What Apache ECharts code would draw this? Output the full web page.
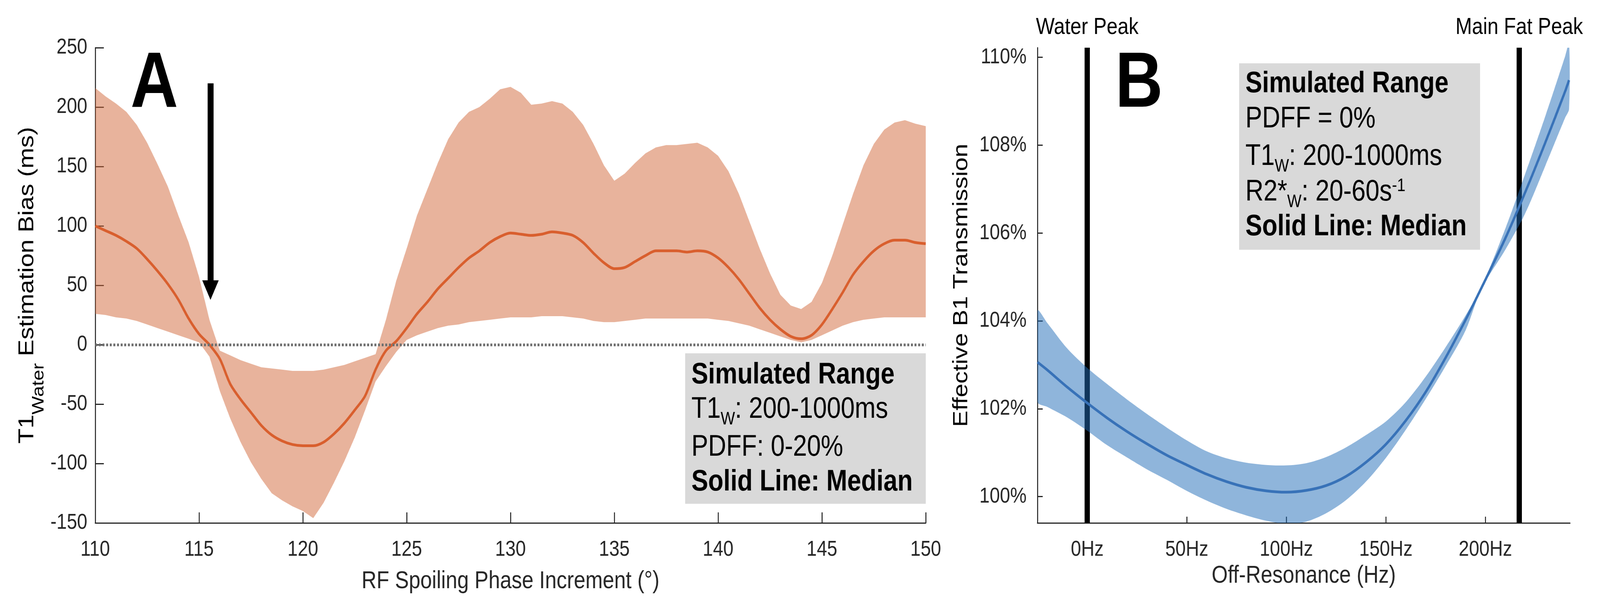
<!DOCTYPE html>
<html>
<head>
<meta charset="utf-8">
<script src="https://cdn.jsdelivr.net/npm/echarts@6/dist/echarts.min.js"></script>
<style>
  html, body { margin: 0; padding: 0; background: #fff; overflow: hidden; }
  #chart { width: 4855px; height: 1548px; transform-origin: 0 0; }
</style>
</head>
<body>
<div id="chart"></div>
<script>
    // panel A: T1 water bias vs RF spoiling phase increment
    var phaseDeg = [
        110, 110.5, 111, 111.5, 112, 112.5, 113, 113.5, 114, 114.5,
        115, 115.5, 116, 116.5, 117, 117.5, 118, 118.5, 119, 119.5,
        120, 120.5, 121, 121.5, 122, 122.5, 123, 123.5, 124, 124.5,
        125, 125.5, 126, 126.5, 127, 127.5, 128, 128.5, 129, 129.5,
        130, 130.5, 131, 131.5, 132, 132.5, 133, 133.5, 134, 134.5,
        135, 135.5, 136, 136.5, 137, 137.5, 138, 138.5, 139, 139.5,
        140, 140.5, 141, 141.5, 142, 142.5, 143, 143.5, 144, 144.5,
        145, 145.5, 146, 146.5, 147, 147.5, 148, 148.5, 149, 149.5,
        150
    ];
    var biasUpper = [
        216, 209, 203, 196, 185, 170, 152, 133, 109, 86,
        57, 21, -5, -9, -13, -16, -19, -20, -21, -22,
        -22, -22, -21, -19, -17, -14, -11, -8, 21, 54,
        81, 109, 131, 153, 173, 187, 196, 200, 207, 215,
        217, 212, 202, 203, 205, 203, 196, 185, 169, 151,
        138, 144, 153, 161, 166, 168, 168, 169, 170, 166,
        159, 146, 127, 104, 81, 60, 42, 33, 30, 36,
        52, 75, 101, 127, 151, 169, 181, 187, 189, 186,
        184
    ];
    var biasLower = [
        26, 25, 23, 22, 20, 17, 14, 11, 8, 5,
        2, -10, -39, -62, -82, -99, -113, -125, -131, -136,
        -140, -146, -133, -116, -98, -78, -55, -31, -18, -6,
        4, 8, 11, 14, 16, 17, 19, 20, 21, 22,
        23, 23, 23, 24, 24, 24, 23, 22, 20, 19,
        19, 20, 21, 22, 22, 22, 22, 22, 22, 22,
        21, 20, 18, 16, 13, 10, 7, 4, 2, 4,
        8, 12, 16, 19, 21, 22, 23, 23, 23, 23,
        23
    ];
    var biasMedian = [
        100, 96, 92, 87, 81, 72, 62, 51, 38, 22,
        9, 0, -12, -33, -46, -57, -68, -76, -81, -84,
        -85, -85, -82, -75, -66, -55, -43, -21, -5, 3,
        14, 26, 36, 47, 56, 65, 73, 79, 86, 91,
        94, 93, 92, 93, 95, 94, 92, 86, 77, 69,
        64, 65, 70, 75, 79, 79, 79, 78, 79, 78,
        73, 65, 55, 43, 31, 21, 13, 7, 5, 8,
        17, 30, 44, 59, 70, 79, 85, 88, 88, 86,
        85
    ];

    // panel B: effective B1 transmission vs off-resonance
    var offResHz = [-25, -20, -10, 0, 10, 20, 30, 40, 50, 60, 70, 80, 90, 100, 110,
        120, 130, 140, 150, 160, 170, 180, 190, 198, 210, 220, 230, 240, 242];
    var b1Upper = [104.23, 103.95, 103.37, 102.93, 102.56, 102.21, 101.88, 101.57, 101.28, 101.03,
        100.87, 100.77, 100.72, 100.71, 100.76, 100.90, 101.12, 101.40, 101.71, 102.15,
        102.73, 103.40, 104.12, 104.77, 106.10, 107.35, 108.65, 110.02, 110.32];
    var b1Lower = [102.16, 102.04, 101.80, 101.50, 101.17, 100.89, 100.62, 100.38, 100.13, 99.91,
        99.72, 99.57, 99.45, 99.38, 99.43, 99.62, 99.92, 100.34, 100.88, 101.52,
        102.22, 102.97, 103.78, 104.73, 105.62, 106.45, 107.52, 108.62, 108.82];
    var b1Median = [103.06, 102.88, 102.49, 102.13, 101.79, 101.48, 101.20, 100.94, 100.72, 100.51,
        100.34, 100.21, 100.13, 100.10, 100.14, 100.25, 100.46, 100.78, 101.19, 101.73,
        102.38, 103.16, 104.02, 104.75, 105.88, 106.93, 108.05, 109.22, 109.48];

    var hzTicks = [0, 50, 100, 150, 200];
    var b1Ticks = [100, 102, 104, 106, 108, 110];
    var peakHz = [0, 217];
    var peakNames = ['Water Peak', 'Main Fat Peak'];

    var font = 'Liberation Sans, Arial, Helvetica, sans-serif';
    var ink = '#262626';

    function pairs(xs, ys) {
        return xs.map(function (x, i) { return [x, ys[i]]; });
    }

    // filled range between two curves, drawn as one polygon in data space
    function bandRenderer(xs, lo, hi, fill, smooth) {
        return function (params, api) {
            var points = [];
            for (var i = 0; i < xs.length; i++) {
                points.push(api.coord([xs[i], hi[i]]));
            }
            for (var j = xs.length - 1; j >= 0; j--) {
                points.push(api.coord([xs[j], lo[j]]));
            }
            return {
                type: 'polygon',
                shape: { points: points, smooth: smooth },
                style: { fill: fill }
            };
        };
    }

    function axisX(grid, extra) {
        var ax = {
            gridIndex: grid,
            type: 'value',
            nameLocation: 'middle',
            nameTextStyle: { fontSize: 63, color: ink, fontFamily: font },
            axisLine: { onZero: false, lineStyle: { color: ink, width: 3 } },
            axisTick: { inside: true, length: 27, lineStyle: { color: ink, width: 3 } },
            axisLabel: { fontSize: 56, color: ink, margin: 41, fontFamily: font },
            splitLine: { show: false }
        };
        return Object.assign(ax, extra);
    }

    var legendMain = { fontSize: 76, lineHeight: 76, verticalAlign: 'top', fontFamily: font, color: '#000' };
    var legendRich = {
        b: Object.assign({}, legendMain, { fontWeight: 'bold' }),
        n: legendMain,
        s: { fontSize: 46, lineHeight: 46, verticalAlign: 'top', padding: [41, 0, 0, 0], fontFamily: font, color: '#000' },
        p: { fontSize: 46, lineHeight: 46, verticalAlign: 'top', fontFamily: font, color: '#000' }
    };
    function legendLine(x, baseline, text) {
        return {
            type: 'text', x: x, y: baseline - 64.3, z: 20,
            style: { text: text, rich: legendRich, verticalAlign: 'top', align: 'left' }
        };
    }

    var option = {
        backgroundColor: '#fff',
        animation: false,
        textStyle: { fontFamily: font },
        grid: [
            { left: 289, top: 122, width: 2520, height: 1216 },
            { left: 3148, top: 122, width: 1616, height: 1216 }
        ],
        xAxis: [
            axisX(0, {
                min: 110, max: 150, interval: 5,
                name: 'RF Spoiling Phase Increment (°)', nameGap: 118
            }),
            axisX(1, {
                min: -25, max: 242.5,
                name: 'Off-Resonance (Hz)', nameGap: 104,
                axisTick: { inside: true, length: 16, customValues: hzTicks, lineStyle: { color: ink, width: 3 } },
                axisLabel: {
                    fontSize: 56, color: ink, margin: 41, fontFamily: font, customValues: hzTicks,
                    formatter: function (v) { return v + 'Hz'; }
                }
            })
        ],
        yAxis: [
            {
                gridIndex: 0, type: 'value', min: -150, max: 250, interval: 50,
                axisLine: { show: true, onZero: false, lineStyle: { color: ink, width: 3 } },
                axisTick: { show: true, inside: true, length: 26, lineStyle: { color: ink, width: 3 } },
                axisLabel: { fontSize: 56, color: ink, margin: 24, fontFamily: font },
                splitLine: { show: false }
            },
            {
                gridIndex: 1, type: 'value', min: 99.4, max: 110.22,
                axisLine: { show: true, onZero: false, lineStyle: { color: ink, width: 3 } },
                axisTick: { show: true, inside: true, length: 16, customValues: b1Ticks, lineStyle: { color: ink, width: 3 } },
                axisLabel: {
                    fontSize: 56, color: ink, margin: 33, fontFamily: font, customValues: b1Ticks,
                    formatter: function (v) { return v + '%'; }
                },
                splitLine: { show: false }
            }
        ],
        series: [
            {
                name: 'bias range', type: 'custom', xAxisIndex: 0, yAxisIndex: 0,
                renderItem: bandRenderer(phaseDeg, biasLower, biasUpper, 'rgba(209,103,57,0.5)', 0),
                data: [0], clip: true, silent: true,
                markLine: {
                    silent: true, z: 6, symbol: ['none', 'triangle'], symbolSize: [50, 50],
                    label: { show: false },
                    lineStyle: { color: '#000', width: 18, type: 'solid', opacity: 1 },
                    data: [[{ coord: [115.55, 220] }, { coord: [115.55, 46] }]]
                }
            },
            {
                name: 'bias median', type: 'line', xAxisIndex: 0, yAxisIndex: 0,
                data: pairs(phaseDeg, biasMedian), symbol: 'none', smooth: 0.3, silent: true,
                lineStyle: { color: '#D95F2E', width: 7 },
                markLine: {
                    silent: true, symbol: 'none', label: { show: false },
                    lineStyle: { color: '#707070', width: 7, type: [6, 5] },
                    data: [{ yAxis: 0 }]
                }
            },
            {
                name: 'b1 range', type: 'custom', xAxisIndex: 1, yAxisIndex: 1,
                renderItem: bandRenderer(offResHz, b1Lower, b1Upper, 'rgba(31,107,183,0.5)', 0.3),
                data: [0], clip: true, silent: true,
                markLine: {
                    silent: true, z: 1, symbol: 'none',
                    lineStyle: { color: '#000', width: 16, type: 'solid', opacity: 1 },
                    label: {
                        show: true, position: 'end', formatter: '{b}', distance: 22,
                        fontSize: 60, color: '#000', fontFamily: font
                    },
                    data: peakHz.map(function (hz, i) { return { xAxis: hz, name: peakNames[i] }; })
                }
            },
            {
                name: 'b1 median', type: 'line', xAxisIndex: 1, yAxisIndex: 1,
                data: pairs(offResHz, b1Median), symbol: 'none', smooth: 0.3, silent: true,
                lineStyle: { color: '#3872B8', width: 7 }
            }
        ],
        graphic: [
            {
                type: 'text', x: 396, y: 218, z: 20,
                style: { text: 'A', fontSize: 200, fontWeight: 'bold', fontFamily: font, fill: '#000', verticalAlign: 'middle', align: 'left' }
            },
            {
                type: 'text', x: 3384, y: 218, z: 20,
                style: { text: 'B', fontSize: 200, fontWeight: 'bold', fontFamily: font, fill: '#000', verticalAlign: 'middle', align: 'left' }
            },
            {
                type: 'text', x: 51, y: 730, rotation: Math.PI / 2, z: 20,
                style: {
                    text: '{m|T1}{w|Water}{m| Estimation Bias (ms)}',
                    align: 'center', verticalAlign: 'top',
                    rich: {
                        m: { fontSize: 64, lineHeight: 64, verticalAlign: 'top', fontFamily: font, color: ink },
                        w: { fontSize: 50, lineHeight: 50, verticalAlign: 'top', padding: [42, 0, 0, 0], fontFamily: font, color: ink }
                    }
                }
            },
            {
                type: 'text', x: 2886, y: 730, rotation: Math.PI / 2, z: 20,
                style: {
                    text: '{m|Effective B1 Transmission}',
                    align: 'center', verticalAlign: 'top',
                    rich: { m: { fontSize: 63, lineHeight: 63, verticalAlign: 'top', fontFamily: font, color: ink } }
                }
            },
            { type: 'rect', z: 15, shape: { x: 2079, y: 904, width: 730, height: 385 }, style: { fill: '#D9D9D9' } },
            legendLine(2098, 986, '{b|Simulated Range}'),
            legendLine(2098, 1074, '{n|T1}{s|W}{n|: 200-1000ms}'),
            legendLine(2098, 1171, '{n|PDFF: 0-20%}'),
            legendLine(2098, 1260, '{b|Solid Line: Median}'),
            { type: 'rect', z: 15, shape: { x: 3760, y: 162, width: 731, height: 477 }, style: { fill: '#D9D9D9' } },
            legendLine(3779, 241, '{b|Simulated Range}'),
            legendLine(3779, 331, '{n|PDFF = 0%}'),
            legendLine(3779, 427, '{n|T1}{s|W}{n|: 200-1000ms}'),
            legendLine(3779, 518, '{n|R2*}{s|W}{n|: 20-60s}{p|-1}'),
            legendLine(3779, 607, '{b|Solid Line: Median}')
        ]
    };

    var el = document.getElementById('chart');
    // the headless window can be narrower than the figure; squeeze the whole figure to fit it
    var sx = Math.min(1, window.innerWidth / 4855);
    var sy = Math.min(1, window.innerHeight / 1548);
    if (sx < 1 || sy < 1) {
        el.style.transform = 'scale(' + sx + ',' + sy + ')';
    }
    var chart = echarts.init(el);
    chart.setOption(option);
</script>
</body>
</html>
